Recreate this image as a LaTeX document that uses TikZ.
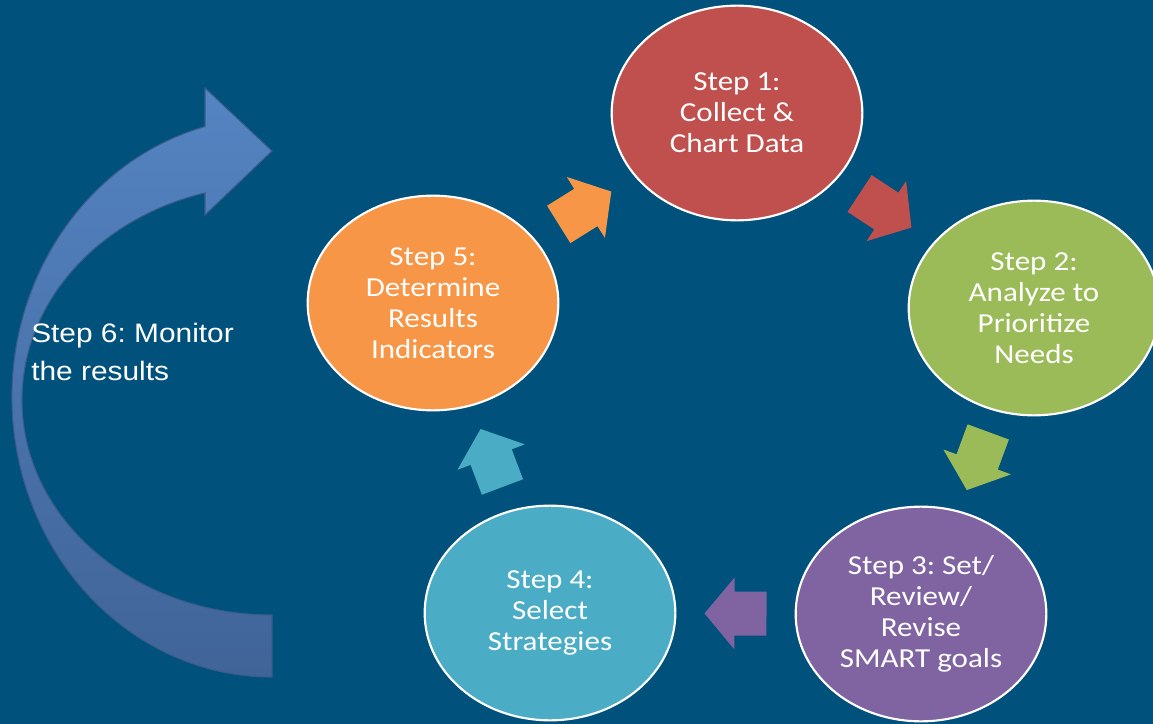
\documentclass[tikz,border=0pt]{standalone}
\usepackage{fontspec}
\usepackage{xcolor}
\usetikzlibrary{calc, shapes.geometric}
\newfontfamily\stepfont{Carlito}[FakeStretch=1.13]
\newfontfamily\monfont{Liberation Sans}[FakeStretch=1.12]
\frenchspacing
\definecolor{slidebg}{RGB}{0,81,123}
\definecolor{stepred}{RGB}{192,80,77}
\definecolor{stepgreen}{RGB}{155,187,89}
\definecolor{steppurple}{RGB}{128,100,162}
\definecolor{stepaqua}{RGB}{75,172,198}
\definecolor{steporange}{RGB}{247,150,70}
\definecolor{loophi}{RGB}{84,132,194}
\definecolor{loopmid}{RGB}{75,116,172}
\definecolor{looplo}{RGB}{64,100,152}
\definecolor{loopedge}{RGB}{58,92,140}
\tikzset{blockarrow/.pic={
	\path[pic actions] (-31,-22) -- (1,-22) -- (1,-36) -- (31,0) -- (1,36) -- (1,22) -- (-31,22) -- cycle;
}}

\begin{document}
\begin{tikzpicture}[x=0.75pt, y=-0.75pt,
	stepnode/.style={ellipse, draw=white, line width=1.6pt, inner sep=0pt,
		minimum width=188pt, minimum height=161pt, align=center, text=white,
		font=\stepfont\fontsize{20.6}{23.3}\selectfont},
	joiner/.style={pos=0.5, sloped, allow upside down},
	monitor/.style={text=white, align=left, inner sep=0pt,
		font=\monfont\fontsize{20}{28.5}\selectfont}]
	\clip (0,0) rectangle (1153,724);
	\fill[slidebg] (0,0) rectangle (1153,724);
	\shade[top color=loophi, middle color=loopmid, bottom color=looplo, draw=loopedge, line width=0.8pt]
		(205,126.5) arc[start angle=-104.93, end angle=-270, x radius=260, y radius=280]
		-- (272,615) arc[start angle=90, end angle=254.45, x radius=250, y radius=215]
		-- (205,215) -- (272,151) -- (205,88) -- cycle;
	\node[stepnode, fill=stepred] (s1) at (737,113) {Step 1:\\Collect \&\\Chart Data};
	\node[stepnode, fill=stepgreen] (s2) at (1034,308) {Step 2:\\Analyze to\\Prioritize\\Needs};
	\node[stepnode, fill=steppurple] (s3) at (921,614) {Step 3: Set/\\Review/\\Revise\\SMART goals};
	\node[stepnode, fill=stepaqua] (s4) at (550,613) {Step 4:\\Select\\Strategies};
	\node[stepnode, fill=steporange] (s5) at (433,303) {Step 5:\\Determine\\Results\\Indicators};
	\path (s1.center) -- pic[joiner, fill=stepred] (a12) {blockarrow} (s2.center);
	\path (s2.center) -- pic[joiner, fill=stepgreen] (a23) {blockarrow} (s3.center);
	\path (s3.center) -- pic[joiner, fill=steppurple] (a34) {blockarrow} (s4.center);
	\path (s4.center) -- pic[joiner, fill=stepaqua] (a45) {blockarrow} (s5.center);
	\path (s5.center) -- pic[joiner, fill=steporange] (a51) {blockarrow} (s1.center);
	\node[monitor, anchor=west] (s6) at (31,352) {Step 6: Monitor\\the results};
\end{tikzpicture}
\end{document}
